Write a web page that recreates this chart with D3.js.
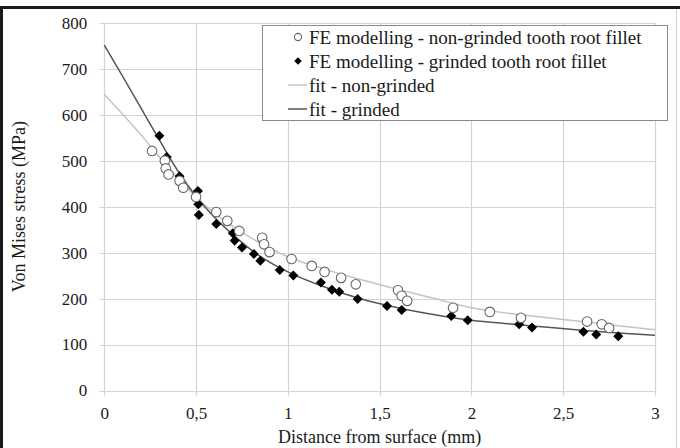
<!DOCTYPE html>
<html><head><meta charset="utf-8">
<script src="https://cdn.jsdelivr.net/npm/d3@7"></script>
<style>html,body{margin:0;padding:0;background:#fff;}svg{display:block;}</style>
</head><body><svg id="c" width="680" height="448"></svg>
<script>
// ---- data ----
const xTicks = [0, 0.5, 1, 1.5, 2, 2.5, 3];
const xTickLabels = ["0", "0,5", "1", "1,5", "2", "2,5", "3"];
const yTicks = [0, 100, 200, 300, 400, 500, 600, 700, 800];

const nonGrindedX = [0.26, 0.33, 0.335, 0.35, 0.41, 0.43, 0.50, 0.61, 0.67, 0.735, 0.86, 0.87, 0.90, 1.02, 1.13, 1.20, 1.29, 1.37, 1.60, 1.62, 1.65, 1.90, 2.10, 2.27, 2.63, 2.71, 2.75];
const nonGrindedY = [521, 500, 483, 470, 456, 441, 421, 388, 369, 347, 332, 318, 301, 286, 271, 258, 245, 231, 218, 206, 195, 180, 171, 158, 150, 144, 136];

const grindedX = [0.30, 0.34, 0.41, 0.51, 0.512, 0.515, 0.61, 0.70, 0.71, 0.75, 0.815, 0.85, 0.956, 1.03, 1.18, 1.24, 1.28, 1.38, 1.54, 1.62, 1.89, 1.98, 2.26, 2.33, 2.61, 2.68, 2.80];
const grindedY = [554, 508, 466, 434, 405, 382, 362, 342, 326, 311, 297, 282, 262, 250, 235, 219, 215, 199, 184, 175, 162, 153, 144, 137, 128, 122, 118];

const fitNonX = [0, 0.1, 0.2, 0.3, 0.4, 0.5, 0.6, 0.7, 0.8, 0.9, 1.0, 1.2, 1.4, 1.6, 1.8, 2.0, 2.2, 2.4, 2.6, 2.8, 3.0];
const fitNonY = [644, 601, 556, 508, 462, 421, 386, 357, 332, 310, 291, 264, 241, 220, 200, 180, 168, 159, 150, 141, 132];
const fitGrX = [0, 0.1, 0.2, 0.3, 0.4, 0.5, 0.6, 0.7, 0.8, 0.9, 1.0, 1.2, 1.4, 1.6, 1.8, 2.0, 2.2, 2.4, 2.6, 2.8, 3.0];
const fitGrY = [751, 683, 614, 545, 478, 422, 377, 339, 306, 279, 258, 225, 199, 180, 165, 153, 145, 138, 131, 125, 120];

const legendLabels = ["FE modelling - non-grinded tooth root fillet", "FE modelling - grinded tooth root fillet", "fit - non-grinded", "fit - grinded"];
const xTitle = "Distance from surface (mm)";
const yTitle = "Von Mises stress (MPa)";

// ---- drawing ----
const FONT = "'Liberation Serif', 'DejaVu Serif', serif";
const svg = d3.select("#c");
const x = d3.scaleLinear().domain([0, 3]).range([104.3, 655]);
const y = d3.scaleLinear().domain([0, 800]).range([390.5, 22.7]);
const gridCol = "#d4d4d4";
const textCol = "#1a1a1a";

// frame
svg.append("rect").attr("x", 0).attr("y", 0).attr("width", 680).attr("height", 448).attr("fill", "#fff");
svg.append("line").attr("x1", 676.5).attr("x2", 676.5).attr("y1", 9).attr("y2", 448).attr("stroke", "#d0d0d0");
svg.append("rect").attr("x", 0).attr("y", 6).attr("width", 680).attr("height", 3).attr("fill", "#1a1a1a");
svg.append("rect").attr("x", 0).attr("y", 6).attr("width", 3).attr("height", 442).attr("fill", "#1a1a1a");

// gridlines
const g = svg.append("g");
g.selectAll(".hg").data(yTicks).join("line")
  .attr("x1", x(0) - 5).attr("x2", x(3))
  .attr("y1", d => Math.round(y(d)) + 0.5).attr("y2", d => Math.round(y(d)) + 0.5)
  .attr("stroke", gridCol).attr("stroke-width", 1.2);
g.selectAll(".vg").data(xTicks).join("line")
  .attr("y1", y(800)).attr("y2", y(0) + 5)
  .attr("x1", d => Math.round(x(d)) + 0.5).attr("x2", d => Math.round(x(d)) + 0.5)
  .attr("stroke", gridCol).attr("stroke-width", 1.2);

// axes labels via d3 axes
const xAxis = d3.axisBottom(x).tickValues(xTicks).tickFormat((d, i) => xTickLabels[i]).tickSize(0).tickPadding(16);
const gx = svg.append("g").attr("transform", `translate(0,${y(0)})`).call(xAxis);
gx.select(".domain").remove();
gx.selectAll("text").attr("font-family", FONT).attr("font-size", 17).attr("fill", textCol);

const yAxis = d3.axisLeft(y).tickValues(yTicks).tickSize(0).tickPadding(17);
const gy = svg.append("g").attr("transform", `translate(${x(0)},0)`).call(yAxis);
gy.select(".domain").remove();
gy.selectAll("text").attr("font-family", FONT).attr("font-size", 17).attr("fill", textCol);

// titles
svg.append("text").attr("x", (x(0) + x(3)) / 2).attr("y", 443).attr("text-anchor", "middle")
  .attr("font-family", FONT).attr("font-size", 18).attr("fill", textCol).text(xTitle);
svg.append("text").attr("transform", `translate(25,${(y(0) + y(800)) / 2}) rotate(-90)`).attr("text-anchor", "middle")
  .attr("font-family", FONT).attr("font-size", 18).attr("fill", textCol).text(yTitle);

// fit lines
const line = d3.line().x(d => x(d[0])).y(d => y(d[1])).curve(d3.curveMonotoneX);
svg.append("path").datum(fitNonX.map((v, i) => [v, fitNonY[i]])).attr("d", line)
  .attr("fill", "none").attr("stroke", "#c4c4c4").attr("stroke-width", 1.5);
svg.append("path").datum(fitGrX.map((v, i) => [v, fitGrY[i]])).attr("d", line)
  .attr("fill", "none").attr("stroke", "#555").attr("stroke-width", 1.5);

// points
const diamond = d3.symbol().type(d3.symbolDiamond2).size(64);
svg.append("g").selectAll("path").data(grindedX.map((v, i) => [v, grindedY[i]])).join("path")
  .attr("d", diamond).attr("transform", d => `translate(${x(d[0])},${y(d[1])})`).attr("fill", "#000");
svg.append("g").selectAll("circle").data(nonGrindedX.map((v, i) => [v, nonGrindedY[i]])).join("circle")
  .attr("cx", d => x(d[0])).attr("cy", d => y(d[1])).attr("r", 4.8)
  .attr("fill", "#fff").attr("stroke", "#666").attr("stroke-width", 1.1);

// legend
const lg = svg.append("g");
lg.append("rect").attr("x", 262.5).attr("y", 25.5).attr("width", 405).attr("height", 95)
  .attr("fill", "#fff").attr("stroke", "#8a8a8a").attr("stroke-width", 1);
const rowY = [37, 61, 85, 109];
lg.append("circle").attr("cx", 298).attr("cy", rowY[0]).attr("r", 3.6).attr("fill", "#fff").attr("stroke", "#666").attr("stroke-width", 1.1);
lg.append("path").attr("d", d3.symbol().type(d3.symbolDiamond2).size(36)).attr("transform", `translate(298,${rowY[1]})`).attr("fill", "#000");
lg.append("line").attr("x1", 288).attr("x2", 307).attr("y1", rowY[2]).attr("y2", rowY[2]).attr("stroke", "#c4c4c4").attr("stroke-width", 1.5);
lg.append("line").attr("x1", 288).attr("x2", 307).attr("y1", rowY[3]).attr("y2", rowY[3]).attr("stroke", "#555").attr("stroke-width", 1.5);
lg.selectAll("text").data(legendLabels).join("text")
  .attr("x", 309).attr("y", (d, i) => rowY[i]).attr("dy", "0.35em")
  .attr("font-family", FONT).attr("font-size", 19).attr("fill", textCol).text(d => d);
</script></body></html>
